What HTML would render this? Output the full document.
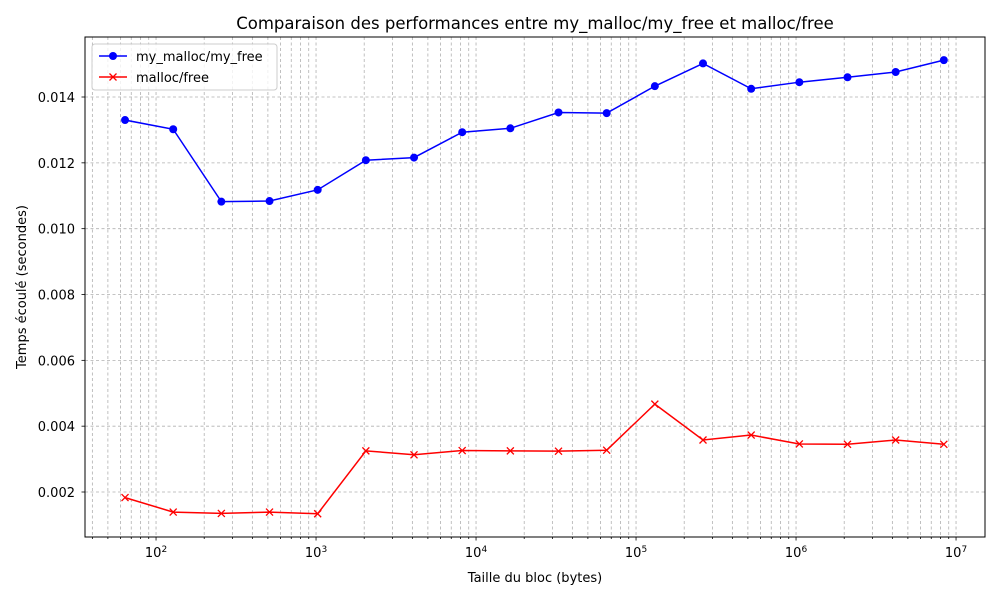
<!DOCTYPE html>
<html><head><meta charset="utf-8"><style>body{margin:0;background:#fff}svg{display:block;font-family:"DejaVu Sans","Liberation Sans",sans-serif}</style></head>
<body>
<svg id="chart" width="1000" height="600" xmlns="http://www.w3.org/2000/svg">
<rect x="0" y="0" width="1000" height="600" fill="#fff"/>
<text x="535" y="29" font-size="16.5" text-anchor="middle" fill="#000">Comparaison des performances entre my_malloc/my_free et malloc/free</text>
<text x="535" y="582" font-size="13" text-anchor="middle">Taille du bloc (bytes)</text>
<text transform="translate(26,287) rotate(-90)" font-size="13" text-anchor="middle">Temps écoulé (secondes)</text>
<g id="grid"></g><g id="series"></g><g id="axes"></g>
<g>
<rect x="92" y="44" width="185" height="46" fill="#fff" fill-opacity="0.8" stroke="#ccc" rx="3"/>
<line x1="99" y1="56" x2="127" y2="56" stroke="#0000ff" stroke-width="1.5"/><circle cx="113" cy="56" r="4" fill="#0000ff"/>
<text x="136" y="61" font-size="13">my_malloc/my_free</text>
<line x1="99" y1="77" x2="127" y2="77" stroke="#ff0000" stroke-width="1.5"/>
<path d="M109.5 73.5L116.5 80.5M116.5 73.5L109.5 80.5" stroke="#ff0000" stroke-width="1.3"/>
<text x="136" y="82" font-size="13">malloc/free</text>
</g>
</svg>
<script>
const sizes=[64,128,256,512,1024,2048,4096,8192,16384,32768,65536,131072,262144,524288,1048576,2097152,4194304,8388608];
const myMalloc=[0.01330,0.01302,0.01082,0.01084,0.01118,0.01208,0.01216,0.01293,0.01305,0.01353,0.01351,0.01433,0.01502,0.01425,0.01445,0.01460,0.01476,0.01512];
const mallocFree=[0.00183,0.00139,0.00135,0.00139,0.00134,0.00325,0.00313,0.00326,0.00325,0.00324,0.00327,0.00467,0.00358,0.00373,0.00346,0.00345,0.00358,0.00345];
const yTicks=[0.002,0.004,0.006,0.008,0.010,0.012,0.014];
const xTickExps=[2,3,4,5,6,7];
const L=85,R=985,T=37,B=537;
const xmin=1.556,xmax=7.181,ymin=0.000633,ymax=0.015823;
const X=v=>L+(Math.log10(v)-xmin)/(xmax-xmin)*(R-L);
const Y=v=>B-(v-ymin)/(ymax-ymin)*(B-T);
const NS="http://www.w3.org/2000/svg";
function mk(tag,attrs,parent){const e=document.createElementNS(NS,tag);for(const k in attrs)e.setAttribute(k,attrs[k]);parent.appendChild(e);return e;}
const grid=document.getElementById('grid'),axes=document.getElementById('axes'),ser=document.getElementById('series');
for(let e=1;e<=7;e++)for(let m=1;m<10;m++){const v=m*Math.pow(10,e);const lv=Math.log10(v);if(lv<xmin||lv>xmax)continue;const x=X(v);
 const g=mk('line',{x1:x,x2:x,y1:T,y2:B,stroke:'#b0b0b0','stroke-width':0.8,'stroke-dasharray':'3,2.5'},grid);
 
 mk('line',{x1:x,x2:x,y1:B,y2:B+(m==1?3.5:2),stroke:'#000','stroke-width':0.8},axes);}
xTickExps.forEach(e=>{const x=X(Math.pow(10,e));const t=mk('text',{x:x,y:B+20,'font-size':13,'text-anchor':'middle'},axes);t.textContent='10';
 
 const s=mk('tspan',{dy:-5,'font-size':9},t);s.textContent=e;});
yTicks.forEach(v=>{const y=Y(v);const g=mk('line',{x1:L,x2:R,y1:y,y2:y,stroke:'#b0b0b0','stroke-width':0.8,'stroke-dasharray':'3,2.5'},grid);
 
 mk('line',{x1:L-3.5,x2:L,y1:y,y2:y,stroke:'#000','stroke-width':0.8},axes);
 const t=mk('text',{x:L-10,y:y+5,'font-size':13,'text-anchor':'end'},axes);t.textContent=v.toFixed(3);
 });
const f=mk('rect',{x:L,y:T,width:R-L,height:B-T,fill:'none',stroke:'#000','stroke-width':1},axes);

const p1=mk('polyline',{points:sizes.map((s,i)=>X(s)+','+Y(myMalloc[i])).join(' '),fill:'none',stroke:'#0000ff','stroke-width':1.5},ser);

sizes.forEach((s,i)=>{const c=mk('circle',{cx:X(s),cy:Y(myMalloc[i]),r:4,fill:'#0000ff'},ser);
 });
const p2=mk('polyline',{points:sizes.map((s,i)=>X(s)+','+Y(mallocFree[i])).join(' '),fill:'none',stroke:'#ff0000','stroke-width':1.5},ser);

sizes.forEach((s,i)=>{const x=X(s),y=Y(mallocFree[i]);const m=mk('path',{d:`M${x-3.5} ${y-3.5}L${x+3.5} ${y+3.5}M${x+3.5} ${y-3.5}L${x-3.5} ${y+3.5}`,stroke:'#ff0000','stroke-width':1.3},ser);
 });
</script>
</body></html>
